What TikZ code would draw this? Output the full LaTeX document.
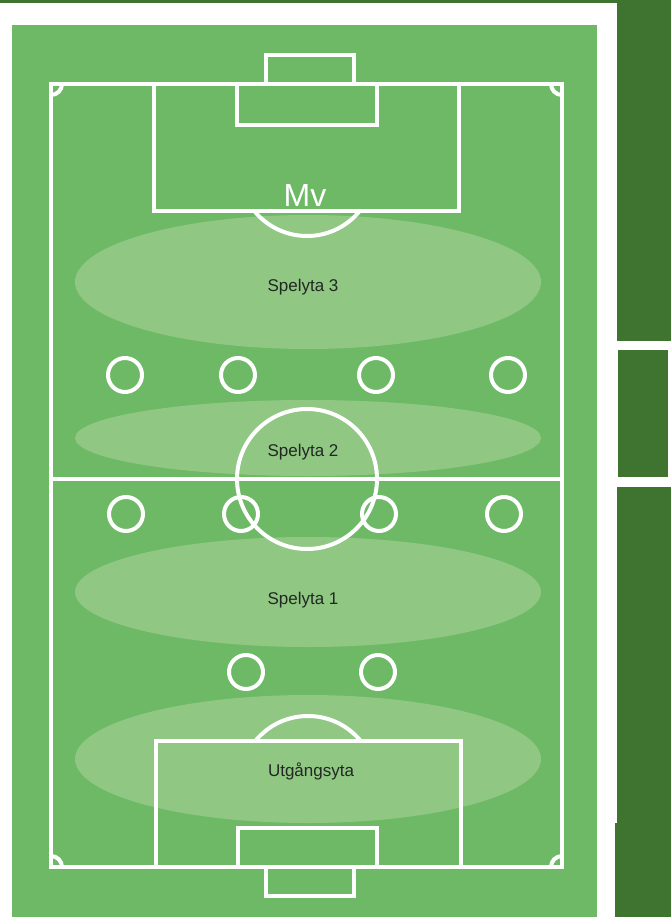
\documentclass[tikz,border=0pt]{standalone}
\usepackage{fontspec}
\setmainfont{Liberation Sans}
\usepackage{tikz}

\definecolor{pitch}{RGB}{109,185,102}
\definecolor{darkpitch}{RGB}{62,116,48}
\definecolor{zone}{RGB}{143,199,131}
\definecolor{zonetext}{RGB}{34,40,34}

\begin{document}
\begin{tikzpicture}[x=1pt,y=-1pt,
    line/.style={white,line width=4pt},
    player/.style={circle,draw=white,line width=4pt,minimum size=34pt,inner sep=0pt},
    zonelabel/.style={text=zonetext,font=\fontsize{17}{20}\selectfont}]
        \useasboundingbox (0,0) rectangle (671,917);
        \fill[white] (0,0) rectangle (671,917);
        % dark strips round the frame
        \fill[darkpitch] (0,0) rectangle (671,3);
        \fill[darkpitch] (617,0) rectangle (671,341);
        \fill[darkpitch] (618,350) rectangle (668,477);
        \fill[darkpitch] (617,487) rectangle (671,823);
        \fill[darkpitch] (615,823) rectangle (671,917);
        % grass
        \fill[pitch] (12,25) rectangle (597,917);
        % zones
        \fill[zone] (308,282) ellipse [x radius=233, y radius=67];
        \fill[zone] (308,438) ellipse [x radius=233, y radius=38];
        \fill[zone] (308,592) ellipse [x radius=233, y radius=55];
        \fill[zone] (308,759) ellipse [x radius=233, y radius=64];
        % outer lines and halfway line
        \draw[line] (51,84) rectangle (562,867);
        \draw[line] (51,479) -- (562,479);
        \draw[line] (307,479) circle (70);
        % top end: goal, goal area, penalty area
        \draw[line] (266,84) -- (266,55) -- (354,55) -- (354,84);
        \draw[line] (237,84) rectangle (377,125);
        \draw[line] (154,84) rectangle (459,211);
        % bottom end
        \draw[line] (266,867) -- (266,896) -- (354,896) -- (354,867);
        \draw[line] (238,828) rectangle (377,867);
        \draw[line] (156,741) rectangle (461,867);
        % penalty arcs, clipped at the box lines
        \begin{scope}
          \clip (0,211) rectangle (671,300);
          \draw[line] (307,168) circle (68);
        \end{scope}
        \begin{scope}
          \clip (0,650) rectangle (671,741);
          \draw[line] (308,784) circle (68);
        \end{scope}
        % corner arcs
        \begin{scope}
          \clip (51,84) rectangle (562,867);
          \foreach \cx/\cy in {51/84, 562/84, 51/867, 562/867}
            \draw[line] (\cx,\cy) circle (11);
        \end{scope}
        % players
        \node[player] (a1) at (125,375) {};
        \node[player] (a2) at (238,375) {};
        \node[player] (a3) at (376,375) {};
        \node[player] (a4) at (508,375) {};
        \node[player] (b1) at (126,514) {};
        \node[player] (b2) at (241,514) {};
        \node[player] (b3) at (379,514) {};
        \node[player] (b4) at (504,514) {};
        \node[player] (c1) at (246,672) {};
        \node[player] (c2) at (378,672) {};
        % labels
        \node[text=white,font=\fontsize{32}{36}\selectfont,anchor=base] (mv) at (305,207) {Mv};
        \node[zonelabel] (spelyta3) at (303,287) {Spelyta 3};
        \node[zonelabel] (spelyta2) at (303,452) {Spelyta 2};
        \node[zonelabel] (spelyta1) at (303,600) {Spelyta 1};
        \node[zonelabel] (utgang) at (311,771) {Utgångsyta};
      \end{tikzpicture}
\end{document}
